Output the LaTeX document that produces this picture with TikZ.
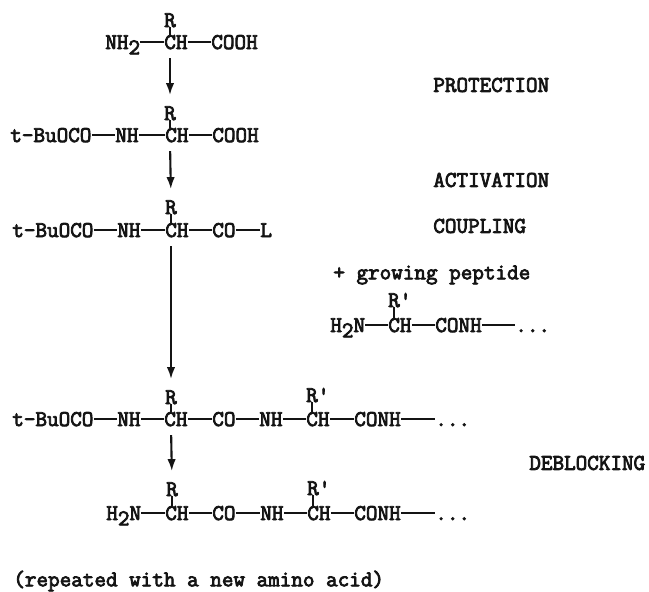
\documentclass[tikz,border=0pt]{standalone}
\usepackage{fontspec}
\usepackage{tikz}
\usetikzlibrary{arrows.meta}
\newfontfamily\typerfont[FakeBold=3.5]{Latin Modern Mono}
\definecolor{TypeInk}{HTML}{141414}
\newcommand{\lowtwo}{\raisebox{-0.55ex}{2}}

\begin{document}
\begin{tikzpicture}[
      >={Latex[length=2.4mm,width=1.7mm]},
      frag/.style={anchor=west,inner sep=0pt,text height=8pt,text depth=0pt,text=TypeInk,font=\typerfont\fontsize{12.8}{14}\selectfont},
      sidechain/.style={frag,anchor=center},
      note/.style={anchor=west,inner sep=0pt,text=TypeInk,font=\typerfont\fontsize{12.8}{14}\selectfont},
      bond/.style={draw=TypeInk,line width=1.1pt},
      synth/.style={->,draw=TypeInk,line width=1.2pt,shorten <=5pt,shorten >=6pt}
    ]
    \path[use as bounding box] (0,0) rectangle (12.98,11.84);

    % free amino acid
    \node[sidechain] (rA) at (3.40,11.44) {R};
    \node[frag] (nA) at (2.10,11.00) {NH\lowtwo};
    \node[frag] (cA) at (3.28,11.00) {CH};
    \node[frag] (oA) at (4.22,11.00) {COOH};
    \draw[bond] (nA) -- (cA);
    \draw[bond] (cA) -- (oA);
    \draw[bond] (rA) -- (rA |- cA.north);

    % protected
    \node[sidechain] (rB) at (3.40,9.58) {R};
    \node[frag] (bB) at (0.20,9.14) {t-BuOCO};
    \node[frag] (nB) at (2.30,9.14) {NH};
    \node[frag] (cB) at (3.30,9.14) {CH};
    \node[frag] (oB) at (4.24,9.14) {COOH};
    \draw[bond] (bB) -- (nB);
    \draw[bond] (nB) -- (cB);
    \draw[bond] (cB) -- (oB);
    \draw[bond] (rB) -- (rB |- cB.north);

    % activated
    \node[sidechain] (rC) at (3.42,7.70) {R};
    \node[frag] (bC) at (0.24,7.24) {t-BuOCO};
    \node[frag] (nC) at (2.34,7.24) {NH};
    \node[frag] (cC) at (3.30,7.24) {CH};
    \node[frag] (oC) at (4.24,7.24) {CO};
    \node[frag] (lC) at (5.20,7.24) {L};
    \draw[bond] (bC) -- (nC);
    \draw[bond] (nC) -- (cC);
    \draw[bond] (cC) -- (oC);
    \draw[bond] (oC) -- (lC);
    \draw[bond] (rC) -- (rC |- cC.north);

    % growing peptide
    \node[note] (plus) at (6.66,6.34) {+ growing peptide};
    \node[sidechain] (rP) at (7.88,5.84) {R\rlap{'}};
    \node[frag] (nP) at (6.60,5.34) {H\lowtwo N};
    \node[frag] (cP) at (7.76,5.34) {CH};
    \node[frag] (oP) at (8.70,5.34) {CONH};
    \node[frag] (dP) at (10.30,5.34) {...};
    \draw[bond] (nP) -- (cP);
    \draw[bond] (cP) -- (oP);
    \draw[bond] (oP) -- (dP);
    \draw[bond] (rP) -- (rP |- cP.north);

    % coupled
    \node[sidechain] (rD) at (3.42,3.90) {R};
    \node[sidechain] (sD) at (6.24,3.94) {R\rlap{'}};
    \node[frag] (bD) at (0.24,3.46) {t-BuOCO};
    \node[frag] (nD) at (2.34,3.46) {NH};
    \node[frag] (cD) at (3.28,3.46) {CH};
    \node[frag] (oD) at (4.24,3.46) {CO};
    \node[frag] (mD) at (5.18,3.46) {NH};
    \node[frag] (eD) at (6.12,3.46) {CH};
    \node[frag] (pD) at (7.08,3.46) {CONH};
    \node[frag] (dD) at (8.70,3.46) {...};
    \draw[bond] (bD) -- (nD);
    \draw[bond] (nD) -- (cD);
    \draw[bond] (cD) -- (oD);
    \draw[bond] (oD) -- (mD);
    \draw[bond] (mD) -- (eD);
    \draw[bond] (eD) -- (pD);
    \draw[bond] (pD) -- (dD);
    \draw[bond] (rD) -- (rD |- cD.north);
    \draw[bond] (sD) -- (sD |- eD.north);

    % deblocked
    \node[sidechain] (rE) at (3.44,2.06) {R};
    \node[sidechain] (sE) at (6.26,2.08) {R\rlap{'}};
    \node[frag] (nE) at (2.12,1.58) {H\lowtwo N};
    \node[frag] (cE) at (3.30,1.58) {CH};
    \node[frag] (oE) at (4.24,1.58) {CO};
    \node[frag] (mE) at (5.20,1.58) {NH};
    \node[frag] (eE) at (6.14,1.58) {CH};
    \node[frag] (pE) at (7.08,1.58) {CONH};
    \node[frag] (dE) at (8.70,1.58) {...};
    \draw[bond] (nE) -- (cE);
    \draw[bond] (cE) -- (oE);
    \draw[bond] (oE) -- (mE);
    \draw[bond] (mE) -- (eE);
    \draw[bond] (eE) -- (pE);
    \draw[bond] (pE) -- (dE);
    \draw[bond] (rE) -- (rE |- cE.north);
    \draw[bond] (sE) -- (sE |- eE.north);

    % reaction arrows
    \draw[synth] (rA |- cA.south) -- (rB.north);
    \draw[synth] (rB |- cB.south) -- (rC.north);
    \draw[synth] (rC |- cC.south) -- (rD.north);
    \draw[synth] (rD |- cD.south) -- (rE.north);

    \node[note] (protection) at (8.66,10.14) {PROTECTION};
    \node[note] (activation) at (8.66,8.24) {ACTIVATION};
    \node[note] (coupling) at (8.66,7.32) {COUPLING};
    \node[note] (deblocking) at (10.58,2.58) {DEBLOCKING};
    \node[note] (repeat) at (0.26,0.22) {(repeated with a new amino acid)};
  \end{tikzpicture}
\end{document}
